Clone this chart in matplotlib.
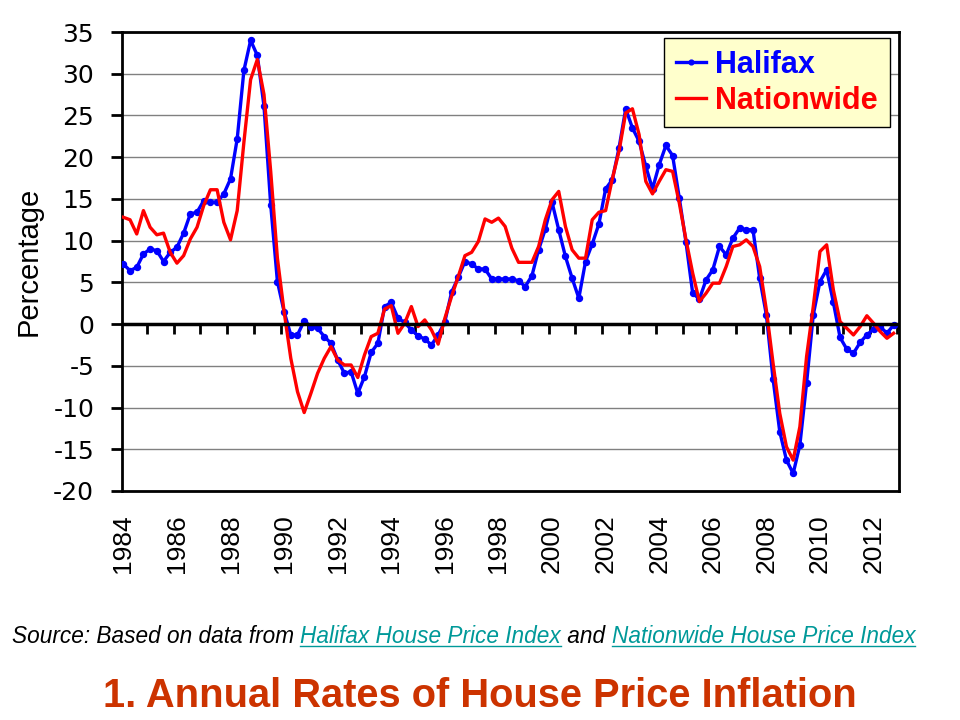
import numpy as np
import matplotlib
matplotlib.use('Agg')
import matplotlib.pyplot as plt
from matplotlib.lines import Line2D

plt.rcParams['font.family'] = ['Liberation Sans', 'DejaVu Sans']
plt.rcParams['axes.unicode_minus'] = False

# quarterly annual rates, 1984 Q1 .. 2012 Q4
halifax = [7.2, 6.4, 6.8, 8.4, 9.0, 8.8, 7.5, 8.6, 9.2, 10.9, 13.2, 13.4,
           14.8, 14.6, 14.6, 15.6, 17.4, 22.2, 30.4, 34.0, 32.2, 26.1, 14.3, 5.1,
           1.5, -1.3, -1.3, 0.4, -0.3, -0.5, -1.5, -2.3, -4.3, -5.9, -5.7, -8.3,
           -6.3, -3.4, -2.3, 2.1, 2.6, 0.7, 0.2, -0.7, -1.4, -1.8, -2.5, -1.3,
           0.3, 3.8, 5.6, 7.5, 7.2, 6.6, 6.6, 5.4, 5.4, 5.4, 5.4, 5.2,
           4.5, 5.8, 8.9, 11.4, 14.6, 11.3, 8.1, 5.5, 3.1, 7.5, 9.6, 12.0,
           16.2, 17.3, 21.1, 25.8, 23.5, 21.9, 18.9, 16.2, 19.1, 21.4, 20.2, 15.1,
           9.8, 3.7, 3.0, 5.3, 6.5, 9.3, 8.3, 10.3, 11.5, 11.3, 11.3, 5.5,
           1.1, -6.6, -12.9, -16.3, -17.9, -14.5, -7.1, 1.1, 5.1, 6.5, 2.6, -1.6,
           -3.0, -3.5, -2.2, -1.3, -0.6, -0.3, -1.1, -0.1]
nationwide = [12.8, 12.5, 10.8, 13.6, 11.6, 10.7, 10.9, 8.6, 7.3, 8.2, 10.2, 11.6,
              14.2, 16.1, 16.1, 12.2, 10.1, 13.6, 21.8, 29.3, 31.7, 27.5, 18.3, 7.9,
              1.5, -4.1, -8.1, -10.6, -8.3, -5.9, -4.1, -2.7, -4.3, -4.9, -4.9, -6.4,
              -3.7, -1.5, -1.1, 1.8, 2.2, -1.1, 0.1, 2.1, -0.3, 0.5, -0.7, -2.4,
              0.7, 3.3, 5.7, 8.2, 8.6, 9.9, 12.6, 12.2, 12.7, 11.7, 9.1, 7.4,
              7.4, 7.4, 9.3, 12.5, 14.9, 15.9, 11.7, 8.9, 7.9, 7.9, 12.5, 13.4,
              13.6, 17.4, 20.7, 25.3, 25.8, 22.7, 17.1, 15.6, 17.1, 18.5, 18.3, 14.5,
              10.1, 6.1, 2.7, 3.7, 4.9, 4.9, 6.9, 9.3, 9.5, 10.1, 9.3, 6.9,
              1.7, -4.7, -10.7, -14.7, -16.3, -12.3, -3.9, 2.1, 8.7, 9.5, 4.1, 0.3,
              -0.5, -1.3, -0.3, 1.0, 0.1, -0.9, -1.7, -1.1]
year_labels = list(range(1984, 2013, 2))
first_year = 1984

x = np.arange(len(halifax))

fig = plt.figure(figsize=(9.6, 7.2), dpi=100)
ax = fig.add_axes([122 / 960, 1 - 491 / 720, 777 / 960, 459 / 720])

ax.plot(x, halifax, color='#0000FF', lw=2.4, marker='o', ms=4.3, label='Halifax', zorder=3)
ax.plot(x, nationwide, color='#FF0000', lw=2.4, label='Nationwide', zorder=4)

ax.set_xlim(-0.2, len(halifax) - 0.2)
ax.set_ylim(-20, 35)
ax.set_yticks(range(-20, 36, 5))
ax.yaxis.grid(True, color='#808080', lw=1)
ax.set_axisbelow(True)
ax.tick_params(axis='y', length=8, width=2, direction='out', pad=12)
for lab in ax.get_yticklabels():
    lab.set_fontfamily('DejaVu Sans')
    lab.set_fontsize(18)
ax.set_ylabel('Percentage', fontsize=21)
ax.yaxis.set_label_coords(-0.102, 0.5)

# labels at the bottom, tick marks on the zero line
ax.set_xticks([(y - first_year) * 4 for y in year_labels])
ax.set_xticklabels([str(y) for y in year_labels], rotation=90, fontsize=19)
ax.tick_params(axis='x', length=0, pad=17)

for s in ax.spines.values():
    s.set_linewidth(2)
    s.set_color('black')

ax.axhline(0, color='black', lw=2.5, zorder=5)
zero_ax = ax.secondary_xaxis(20 / 55)
zero_ax.set_xticks(np.arange(3.5, len(halifax), 4))
zero_ax.tick_params(axis='x', direction='out', length=7.5, width=2, labelbottom=False)
zero_ax.spines['bottom'].set_visible(False)
zero_ax.spines['top'].set_visible(False)

leg = ax.legend(loc='upper right', bbox_to_anchor=(0.988, 0.987), borderaxespad=0,
                prop={'weight': 'bold', 'size': 22}, labelcolor='linecolor',
                frameon=True, fancybox=False, facecolor='#FFFFCC', edgecolor='black',
                framealpha=1, handlelength=1.0, handletextpad=0.3, borderpad=0.38,
                labelspacing=0.2, markerscale=0.8)
leg.get_frame().set_linewidth(1)

# source line, pieces placed one after another
pieces = [('Source: Based on data from ', 'black', False),
          ('Halifax House Price Index', '#009999', True),
          (' and ', 'black', False),
          ('Nationwide House Price Index', '#009999', True)]
fig.canvas.draw()
renderer = fig.canvas.get_renderer()
xpos = 12
base_y = 720 - 643
for txt, col, link in pieces:
    t = fig.text(xpos / 960, base_y / 720, txt, fontsize=16.25, style='italic', color=col,
                 ha='left', va='baseline')
    bb = t.get_window_extent(renderer)
    if link:
        fig.add_artist(Line2D([bb.x0 / 960, bb.x1 / 960], [(base_y - 3) / 720] * 2,
                              transform=fig.transFigure, color=col, lw=1))
    xpos = bb.x1

fig.text(0.5, 1 - 707 / 720, '1. Annual Rates of House Price Inflation', fontsize=28.7,
         weight='bold', color='#CC3300', ha='center', va='baseline')

fig.savefig('out.png', dpi=100)
